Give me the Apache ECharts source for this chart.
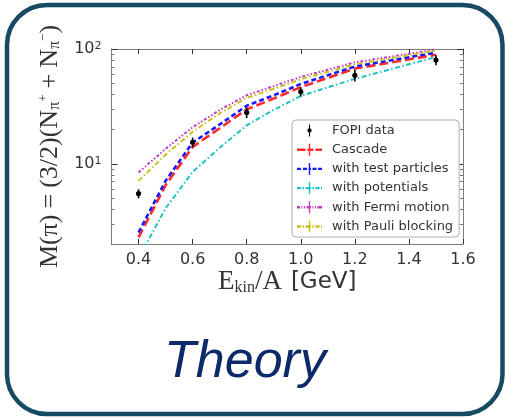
<!DOCTYPE html>
<html>
<head>
<meta charset="utf-8">
<script src="https://cdn.jsdelivr.net/npm/echarts@6/dist/echarts.min.js"></script>
<style>
  html, body { margin: 0; padding: 0; background: #fff; }
  #chart { width: 505px; height: 417px; }
</style>
</head>
<body>
<div id="chart"></div>
<script>
// ---- data ----
const energies = [0.4, 0.5, 0.6, 0.7, 0.8, 0.9, 1.0, 1.2, 1.5];
const cascade = [2.28, 6.5, 14.0, 20.4, 29.8, 37.0, 46.5, 67.5, 89.0];
const testParticles = [2.52, 7.1, 15.3, 22.0, 32.0, 39.5, 49.5, 70.5, 93.0];
const potentials = [1.5, 4.1, 8.5, 13.8, 21.6, 29.5, 39.0, 55.0, 85.0];
const fermiMotion = [8.4, 13.5, 20.8, 29.4, 39.5, 47.5, 57.0, 76.5, 99.0];
const pauliBlocking = [7.1, 12.0, 19.0, 27.5, 37.5, 45.0, 54.5, 73.5, 97.0];

const fopiE = [0.4, 0.6, 0.8, 1.0, 1.2, 1.5];
const fopiM = [5.5, 15.4, 28.0, 42.5, 59.0, 80.0];
const fopiErr = [0.5, 1.5, 3.0, 4.0, 7.0, 8.0];

const xTicks = [0.4, 0.6, 0.8, 1.0, 1.2, 1.4, 1.6];
const yMajor = [10, 100];
const yMinor = [2, 3, 4, 5, 6, 7, 8, 9, 20, 30, 40, 50, 60, 70, 80, 90];

const frame = '#7d7d7d';
const tickCol = '#333';

function pairs(xs, ys) {
    return xs.map((x, i) => [x, ys[i]]);
}

// legend glyph: dashes of the line style plus the little errorbar in the middle
function legendIcon(segs) {
    let d = 'path://';
    segs.forEach(s => { d += 'M' + s[0] + ',4.8H' + s[1] + 'V7.2H' + s[0] + 'Z'; });
    d += 'M11.8,0H13.2V12H11.8Z';
    return d;
}

function curve(name, ys, color, dash, width) {
    return {
        name: name,
        type: 'line',
        data: pairs(energies, ys),
        xAxisIndex: 0,
        yAxisIndex: 0,
        showSymbol: false,
        itemStyle: { color: color },
        lineStyle: { color: color, width: width, type: dash, join: 'round' },
        clip: true,
        silent: true,
        z: 3
    };
}

const chart = echarts.init(document.getElementById('chart'), null, { renderer: 'canvas' });

const xBase = { type: 'value', min: 0.3, max: 1.6 };
const yBase = { type: 'log', logBase: 10, min: 2, max: 100 };

const serif = 'Liberation Serif';

const option = {
    animation: false,
    backgroundColor: '#fff',
    grid: { left: 111.5, top: 49, right: 42, bottom: 173, containLabel: false },
    xAxis: [
        Object.assign({}, xBase, {
            position: 'bottom',
            name: '{e|E}{k|kin}{e|/A}{g|[GeV]}',
            nameLocation: 'middle',
            nameGap: 24,
            nameTextStyle: {
                rich: {
                    e: { fontFamily: serif, fontSize: 27, color: '#333' },
                    k: { fontFamily: serif, fontSize: 16, color: '#333', verticalAlign: 'bottom' },
                    g: { fontFamily: 'DejaVu Sans', fontSize: 23, color: '#333', padding: [0, 0, 0, 9] }
                }
            },
            axisLine: { show: true, lineStyle: { color: frame, width: 1 } },
            axisTick: { show: true, inside: true, length: 5, lineStyle: { color: tickCol }, customValues: xTicks },
            axisLabel: {
                customValues: xTicks, margin: 8, fontFamily: 'DejaVu Sans', fontSize: 16, color: '#333',
                formatter: v => v.toFixed(1)
            },
            splitLine: { show: false }
        }),
        Object.assign({}, xBase, {
            position: 'top',
            axisLine: { show: true, lineStyle: { color: frame, width: 1 } },
            axisTick: { show: true, inside: true, length: 5, lineStyle: { color: tickCol }, customValues: xTicks },
            axisLabel: { show: false },
            splitLine: { show: false }
        })
    ],
    yAxis: [
        Object.assign({}, yBase, {
            position: 'left',
            name: 'M(π){o|=}(3/2)(N{s|π}{p|+}{o|+}N{s|π}{p|−})',
            nameLocation: 'middle',
            nameRotate: 90,
            nameGap: 36,
            nameTextStyle: {
                fontFamily: serif, fontSize: 26, color: '#333',
                rich: {
                    o: { fontFamily: serif, fontSize: 26, color: '#333', padding: [0, 6] },
                    s: { fontFamily: serif, fontSize: 16, color: '#333', verticalAlign: 'bottom' },
                    p: { fontFamily: serif, fontSize: 13, color: '#333', verticalAlign: 'top' }
                }
            },
            axisLine: { show: true, lineStyle: { color: frame, width: 1 } },
            axisTick: { show: true, inside: true, length: 6, lineStyle: { color: tickCol }, customValues: yMajor },
            axisLabel: {
                customValues: yMajor, margin: 10, fontFamily: 'DejaVu Sans', fontSize: 16, color: '#333',
                formatter: v => '10{sup|' + Math.round(Math.log10(v)) + '}',
                rich: { sup: { fontFamily: 'DejaVu Sans', fontSize: 11, color: '#333', verticalAlign: 'top' } }
            },
            splitLine: { show: false }
        }),
        Object.assign({}, yBase, {
            position: 'left',
            axisLine: { show: false },
            axisTick: { show: true, inside: true, length: 3, lineStyle: { color: '#777' }, customValues: yMinor },
            axisLabel: { show: false },
            splitLine: { show: false }
        }),
        Object.assign({}, yBase, {
            position: 'right',
            axisLine: { show: true, lineStyle: { color: frame, width: 1 } },
            axisTick: { show: true, inside: true, length: 6, lineStyle: { color: tickCol }, customValues: yMajor },
            axisLabel: { show: false },
            splitLine: { show: false }
        }),
        Object.assign({}, yBase, {
            position: 'right',
            axisLine: { show: false },
            axisTick: { show: true, inside: true, length: 3, lineStyle: { color: '#777' }, customValues: yMinor },
            axisLabel: { show: false },
            splitLine: { show: false }
        })
    ],
    legend: {
        orient: 'vertical',
        left: 292,
        top: 120,
        width: 160,
        padding: [4, 6, 4, 5],
        itemWidth: 25,
        itemHeight: 12,
        itemGap: 6.2,
        backgroundColor: '#fff',
        borderColor: '#b0b0b0',
        borderWidth: 1,
        borderRadius: 4,
        textStyle: { fontFamily: 'DejaVu Sans', fontSize: 13, color: '#333', padding: [0, 0, 0, 5] },
        data: [
            { name: 'FOPI data', icon: 'path://M4.4,0H5.6V14H4.4Z M7.5,7A2.5,2.5 0 1 1 2.5,7A2.5,2.5 0 1 1 7.5,7Z', itemStyle: { color: '#000' } },
            { name: 'Cascade', icon: legendIcon([[0, 8.5], [10.5, 16.5], [18.5, 25]]) },
            { name: 'with test particles', icon: legendIcon([[0, 4], [6, 10], [11.5, 14], [15.5, 19.5], [21, 25]]) },
            { name: 'with potentials', icon: legendIcon([[0, 4], [5.5, 7], [8.5, 14], [15.5, 17], [18.5, 22.5], [24, 25]]) },
            { name: 'with Fermi motion', icon: legendIcon([[0, 3], [4.5, 5.5], [7, 8], [9.5, 14], [15.5, 16.5], [18, 19], [20.5, 25]]) },
            { name: 'with Pauli blocking', icon: legendIcon([[0, 4], [5.5, 7], [8.5, 14], [15.5, 17], [18.5, 22.5], [24, 25]]) }
        ]
    },
    graphic: [
        {
            type: 'rect',
            shape: { x: 7, y: 5, width: 495.5, height: 409, r: 40 },
            style: { fill: 'none', stroke: '#174b63', lineWidth: 4.5 },
            silent: true,
            z: 100
        },
        {
            type: 'text',
            x: 245,
            y: 337,
            style: {
                text: 'Theory',
                font: 'italic 52px "Liberation Sans"',
                fill: '#0c2a6a',
                align: 'center',
                verticalAlign: 'top'
            },
            silent: true
        }
    ],
    series: [
        curve('Cascade', cascade, '#ff2a2a', [9, 4], 2.6),
        curve('with test particles', testParticles, '#1a1aff', [5, 3], 2.6),
        curve('with potentials', potentials, '#22c0c0', [5, 2.5, 1.5, 2.5], 2),
        curve('with Fermi motion', fermiMotion, '#c43cc4', [3, 2, 1.5, 2, 1.5, 2], 2),
        curve('with Pauli blocking', pauliBlocking, '#c6c21e', [5, 2.5, 1.5, 2.5], 2),
        {
            name: 'FOPI data',
            type: 'custom',
            xAxisIndex: 0,
            yAxisIndex: 0,
            data: fopiE.map((x, i) => [x, fopiM[i], fopiErr[i]]),
            itemStyle: { color: '#000' },
            renderItem: function (params, api) {
                const x = api.value(0), y = api.value(1), e = api.value(2);
                const p = api.coord([x, y]);
                const lo = api.coord([x, y - e]);
                const hi = api.coord([x, y + e]);
                return {
                    type: 'group',
                    children: [
                        { type: 'line', shape: { x1: lo[0], y1: lo[1], x2: hi[0], y2: hi[1] }, style: { stroke: '#000', lineWidth: 1.6 } },
                        { type: 'circle', shape: { cx: p[0], cy: p[1], r: 2.6 }, style: { fill: '#000' } }
                    ]
                };
            },
            z: 5
        }
    ]
};

chart.setOption(option);
</script>
</body>
</html>
